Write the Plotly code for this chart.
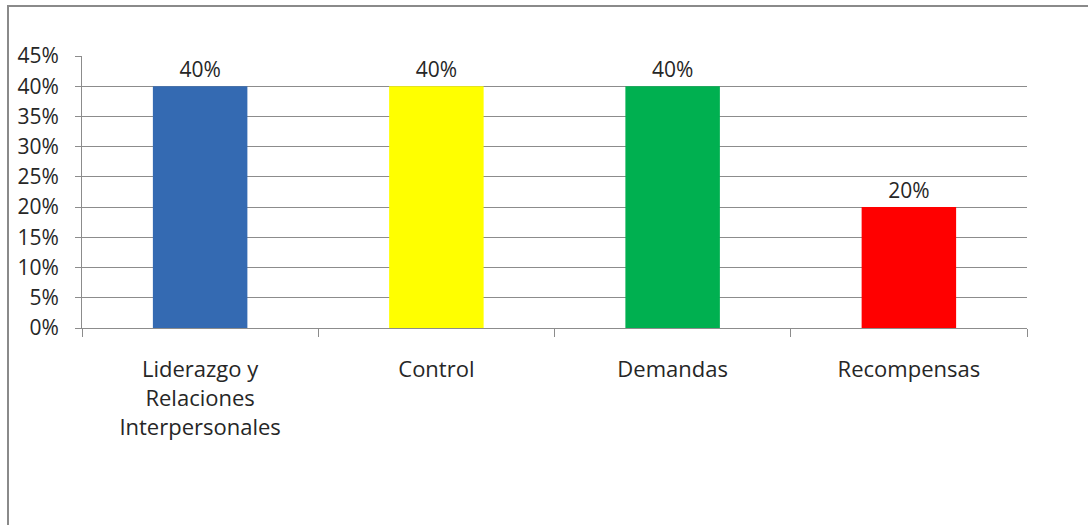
import plotly.graph_objects as go

categories = ["Liderazgo y<br>Relaciones<br>Interpersonales", "Control", "Demandas", "Recompensas"]
values = [0.40, 0.40, 0.40, 0.20]
labels = ["40%", "40%", "40%", "20%"]
colors = ["#346ab2", "#ffff00", "#00b050", "#ff0000"]
yticks = [0, 0.05, 0.10, 0.15, 0.20, 0.25, 0.30, 0.35, 0.40, 0.45]

W, H = 1088, 525
L, R, T, B = 82, 61, 56, 197
pw, ph = W - L - R, H - T - B
FONT = "Open Sans"
TXT = "#262626"

fig = go.Figure(go.Bar(
    x=categories, y=values, width=0.4,
    marker=dict(color=colors, line=dict(width=0)),
    text=labels, textposition="outside", cliponaxis=False,
    textfont=dict(family=FONT, size=21, color=TXT),
))

def px_x(p):
    return (p - L) / pw

def px_y(p):
    return (H - B - p) / ph

fig.update_layout(
    width=W, height=H,
    margin=dict(l=L, r=R, t=T, b=B, pad=0),
    paper_bgcolor="white", plot_bgcolor="white",
    showlegend=False,
    font=dict(family=FONT, size=21, color=TXT),
    xaxis=dict(
        showgrid=False, showline=True, linecolor="#8c8c8c", linewidth=1,
        ticks="outside", tickson="boundaries", ticklen=8, tickcolor="#8c8c8c",
        tickfont=dict(family=FONT, size=22, color=TXT),
        ticklabelstandoff=22,
    ),
    yaxis=dict(
        range=[0, 0.45], tickvals=yticks, tickformat=".0%",
        showgrid=True, gridcolor="#8c8c8c", gridwidth=1,
        showline=True, linecolor="#8c8c8c", linewidth=1,
        ticks="outside", ticklen=6, tickcolor="#8c8c8c",
        tickfont=dict(family=FONT, size=21, color=TXT),
        ticklabelstandoff=12,
        zeroline=False,
    ),
    shapes=[dict(
        type="rect", xref="paper", yref="paper",
        x0=px_x(8), x1=px_x(W + 10), y0=px_y(H + 10), y1=px_y(6),
        line=dict(color="#8a8a8a", width=2), fillcolor="rgba(0,0,0,0)", layer="below",
    )],
)

fig.write_html("out.html")
